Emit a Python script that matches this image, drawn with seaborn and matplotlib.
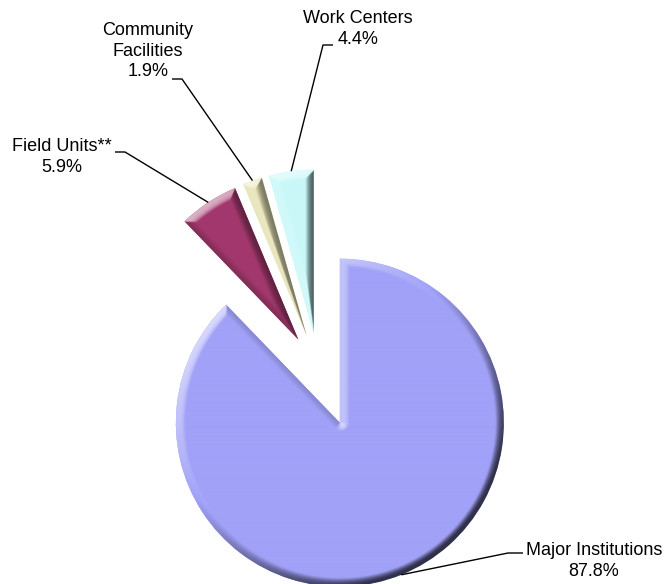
import numpy as np
import matplotlib
matplotlib.use("Agg")
import matplotlib.pyplot as plt
import seaborn as sns

# Share of total by facility type (percent)
categories = ["Major Institutions", "Field Units**", "Community\nFacilities", "Work Centers"]
shares = [87.8, 5.9, 1.9, 4.4]
slice_colors = ["#A1A1F8", "#A2386C", "#E8E5BA", "#C9F8F8"]

# Layout: slice offsets (fraction of radius), label anchors
RADIUS = 164
explode_frac = [0.34, 0.23, 0.23, 0.23]
label_xy = [(594, 23), (62, 427), (148, 533), (358, 555)]
leader_elbow = [(508, 31), (125, 432), (182, 505), (323, 539)]
leader_end = [(523, 31), (115, 432), (172, 505), (333, 539)]

W, H = 665, 584
sns.set_theme(style="white")
plt.rcParams["font.family"] = ["Liberation Sans", "DejaVu Sans"]

fig = plt.figure(figsize=(W / 100, H / 100), dpi=100)
ax = fig.add_axes([0, 0, 1, 1])

wedges, _ = ax.pie(
    shares,
    explode=[f * RADIUS for f in explode_frac],
    colors=slice_colors,
    startangle=90,
    counterclock=False,
    center=(319, 213),
    radius=RADIUS,
    wedgeprops=dict(linewidth=0),
)


def bevel_rgb(wedge, base, width=9.0, depth=5.0, step=0.5):
    """Shaded raster of a wedge with a rounded bevel lit from the upper left."""
    cx, cy = wedge.center
    r = wedge.r
    th1, th2 = wedge.theta1, wedge.theta2
    xs = np.arange(cx - r - 3, cx + r + 3, step)
    ys = np.arange(cy - r - 3, cy + r + 3, step)
    X, Y = np.meshgrid(xs, ys)
    dx, dy = X - cx, Y - cy
    rho = np.hypot(dx, dy)
    d = r - rho
    for t in np.deg2rad([th1, th2]):
        ux, uy = np.cos(t), np.sin(t)
        proj = np.clip(dx * ux + dy * uy, 0, r)
        d = np.minimum(d, np.hypot(dx - proj * ux, dy - proj * uy))
    phi = np.degrees(np.arctan2(dy, dx))
    inside = (rho <= r) & (((phi - th1) % 360) <= (th2 - th1))
    d = np.where(inside, d, -np.abs(d))
    h = depth * np.sin(np.clip(d / width, -0.3, 1.0) * np.pi / 2)
    gy, gx = np.gradient(h, step)
    n = np.dstack([-gx, -gy, np.ones_like(h)])
    n /= np.linalg.norm(n, axis=2, keepdims=True)
    L = np.array([-0.55, 0.6, 0.58])
    L /= np.linalg.norm(L)
    b = (n @ L) / L[2]
    base = np.array(matplotlib.colors.to_rgb(base))
    up = np.clip(b - 1, 0, 1)[..., None]
    down = np.clip(1 - b, 0, 1)[..., None]
    rgb = base + (1 - base) * up * 0.9
    rgb = rgb * (1 - down * 0.7)
    extent = (xs[0] - step / 2, xs[-1] + step / 2, ys[0] - step / 2, ys[-1] + step / 2)
    return np.clip(rgb, 0, 1), extent


for w, c in zip(wedges, slice_colors):
    img, ext = bevel_rgb(w, c)
    im = ax.imshow(img, extent=ext, origin="lower", interpolation="bilinear",
                   zorder=w.get_zorder() + 0.1)
    im.set_clip_path(w)

for w, name, val, txy, elb, end in zip(wedges, categories, shares,
                                       label_xy, leader_elbow, leader_end):
    mid = np.deg2rad((w.theta1 + w.theta2) / 2)
    ax_, ay_ = w.center[0] + w.r * np.cos(mid), w.center[1] + w.r * np.sin(mid)
    ax.plot([ax_, elb[0], end[0]], [ay_, elb[1], end[1]], color="black",
            lw=1.0, solid_capstyle="butt", zorder=5)
    ax.text(txy[0], txy[1], f"{name}\n{val:.1f}%", ha="center", va="center",
            multialignment="center", fontsize=13, color="black",
            linespacing=1.28, zorder=6)

ax.set_xlim(0, W)
ax.set_ylim(0, H)
ax.set_aspect("equal")
ax.axis("off")
fig.savefig("out.png", dpi=100, facecolor="white")
